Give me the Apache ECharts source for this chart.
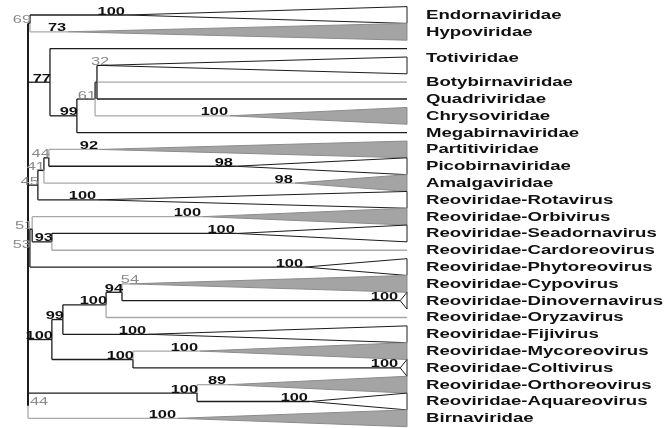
<!DOCTYPE html>
<html><head><meta charset="utf-8">
<script src="https://cdn.jsdelivr.net/npm/echarts@6/dist/echarts.min.js"></script>
<style>html,body{margin:0;padding:0;background:#fff}#c{width:666px;height:428px}</style>
</head><body><div id="c"></div>
<script>
// ---- leaves (one per row, top to bottom) ----
const leafNames = ['Endornaviridae','Hypoviridae','','Totiviridae','Botybirnaviridae','Quadriviridae','Chrysoviridae','Megabirnaviridae','Partitiviridae','Picobirnaviridae','Amalgaviridae','Reoviridae-Rotavirus','Reoviridae-Orbivirus','Reoviridae-Seadornavirus','Reoviridae-Cardoreovirus','Reoviridae-Phytoreovirus','Reoviridae-Cypovirus','Reoviridae-Dinovernavirus','Reoviridae-Oryzavirus','Reoviridae-Fijivirus','Reoviridae-Mycoreovirus','Reoviridae-Coltivirus','Reoviridae-Orthoreovirus','Reoviridae-Aquareovirus','Birnaviridae'];
// depth (0 = root, 100 = tips) where a collapsed clade starts; null = single sequence
const cladeStart = [26.1,10.6,null,19.0,null,null,53.3,null,19.0,54.6,70.4,18.5,46.2,55.1,null,73.1,26.9,98.2,null,31.7,45.4,98.2,52.8,74.4,39.6];
// 1 = grey collapsed clade, 0 = white
const cladeShade = [0,1,null,0,null,null,1,null,1,0,1,0,1,0,null,0,1,0,null,0,1,0,1,0,1];
const leafSupport = [100,73,null,32,null,null,100,null,92,98,98,100,100,100,null,100,54,100,null,100,100,100,89,100,100];
// ---- internal nodes ----
const nodeIds      = ['root','n69','n77','n99','n61','n32','n45','n41','n44','n53','n51','n93','n100a','n99b','n100b','n94','n100c','n44b','n100d'];
const nodeDepth    = [0, 0.53, 5.8, 12.9, 17.7, 18.2, 2.6, 4.2, 5.5, 0.5, 1.1, 6.3, 6.3, 9.2, 20.6, 24.8, 27.7, 0, 44.6];
const nodeSupport  = [null, 69, 77, 99, 61, null, 45, 41, 44, 53, 51, 93, 100, 99, 100, 94, 100, 44, 100];
const nodeChildren = [
  ['n69','n77','n45','n53','n100a','n44b'],
  [0,1], [2,'n99'], ['n61',7], ['n32',6], [3,4,5],
  ['n41',11], ['n44',10], [8,9],
  ['n51',15], [12,'n93'], [13,14],
  ['n99b','n100c'], ['n100b',19], ['n94',18], [16,17], [20,21],
  ['n100d',24], [22,23]
];
// style: leaf rows whose branch is drawn in light grey
const greyBranchRows = [1,4,6,8,10,12,14,16,18,20,22,24];
// style: label row nudges
const labelNudge = {3: -0.42};

const BLACK = '#1c1c1c', GREY = '#a9a9a9', FILL = '#a4a4a4';
const SX = 1.49; // horizontal text stretch of the source figure

const idx = {}; nodeIds.forEach((id,i)=>idx[id]=i);
const nodeRow = new Array(nodeIds.length).fill(null);
function rowOf(c){
  if (typeof c === 'number') return c;
  const i = idx[c];
  if (nodeRow[i] === null){ const k = nodeChildren[i]; nodeRow[i] = (rowOf(k[0]) + rowOf(k[k.length-1]))/2; }
  return nodeRow[i];
}
function startOf(c){ return typeof c === 'number' ? (cladeStart[c] === null ? 100 : cladeStart[c]) : nodeDepth[idx[c]]; }
function isGrey(c){ return typeof c === 'number' && greyBranchRows.indexOf(c) >= 0; }

const branches = [], parentDepth = {};
nodeIds.forEach((id,i)=>{
  const d = nodeDepth[i], r = rowOf(id);
  nodeChildren[i].forEach(c=>{
    const rc = rowOf(c), g = isGrey(c) ? 1 : 0, th = id === 'root' ? 1 : 0;
    branches.push([d, r, d, rc, g, th]);
    branches.push([d, rc, startOf(c), rc, g, 0]);
    if (typeof c === 'number') parentDepth[c] = d;
  });
});
const clades = [];
leafNames.forEach((n,i)=>{ if (cladeStart[i] !== null) clades.push([cladeStart[i], i, cladeShade[i]]); });
const labels = leafNames.map((n,i)=>[100, i + (labelNudge[i]||0), i]);
const supports = [];
leafNames.forEach((n,i)=>{ if (leafSupport[i] !== null) supports.push([cladeStart[i], i, leafSupport[i], 0, parentDepth[i]]); });
nodeIds.forEach((id,i)=>{ if (nodeSupport[i] !== null) supports.push([nodeDepth[i], rowOf(id), nodeSupport[i], nodeDepth[i] === 0 ? 2 : 1, 0]); });

const chart = echarts.init(document.getElementById('c'));
chart.setOption({
  animation: false,
  backgroundColor: '#fff',
  grid: {left: 28, top: 15, width: 379, height: 403.3},
  xAxis: {type: 'value', min: 0, max: 100, show: false},
  yAxis: {type: 'value', min: 0, max: 24, inverse: true, show: false},
  series: [
    {type: 'custom', clip: false, silent: true, data: clades, z: 1,
     renderItem: (p, api) => {
       const s = api.value(0), r = api.value(1), g = api.value(2);
       const a = api.coord([s, r]), t = api.coord([100, r - 0.5]), b = api.coord([100, r + 0.5]);
       return {type: 'polygon', shape: {points: [a, t, b]},
         style: {fill: g ? FILL : '#fff', stroke: g ? '#8c8c8c' : BLACK, lineWidth: 1}};
     }},
    {type: 'custom', clip: false, silent: true, data: branches, z: 2,
     renderItem: (p, api) => {
       const a = api.coord([api.value(0), api.value(1)]), b = api.coord([api.value(2), api.value(3)]);
       return {type: 'line', shape: {x1: a[0], y1: a[1], x2: b[0], y2: b[1]},
         style: {stroke: api.value(4) ? GREY : BLACK, lineWidth: api.value(5) ? 2 : 1.3}};
     }},
    {type: 'custom', clip: false, silent: true, data: labels, z: 3,
     renderItem: (p, api) => {
       const c = api.coord([api.value(0), api.value(1)]);
       return {type: 'text', x: c[0] + 19, y: c[1] + 0.5, scaleX: SX,
         style: {text: leafNames[api.value(2)], fill: '#111', font: 'bold 12.5px "Liberation Sans", Arial, sans-serif',
           align: 'left', verticalAlign: 'middle'}};
     }},
    {type: 'custom', clip: false, silent: true, data: supports, z: 4,
     renderItem: (p, api) => {
       const c = api.coord([api.value(0), api.value(1)]), v = api.value(2), k = api.value(3);
       const strong = v >= 70;
       let x = c[0], align = 'right';
       if (k === 0) {
         const pc = api.coord([api.value(4), api.value(1)]);
         if (c[0] - pc[0] < 8) { align = 'center'; } else { x = c[0] - 2; }
       } else if (k === 1) { x = c[0] + 1; }
       else { x = c[0] + 2; align = 'left'; }
       return {type: 'text', x: x, y: c[1] - 3.5, scaleX: SX,
         style: {text: String(v), fill: strong ? '#111' : '#8a8a8a',
           font: (strong ? 'bold ' : '') + '11px "Liberation Sans", Arial, sans-serif',
           align: align, verticalAlign: 'middle'}};
     }}
  ]
});
</script></body></html>
